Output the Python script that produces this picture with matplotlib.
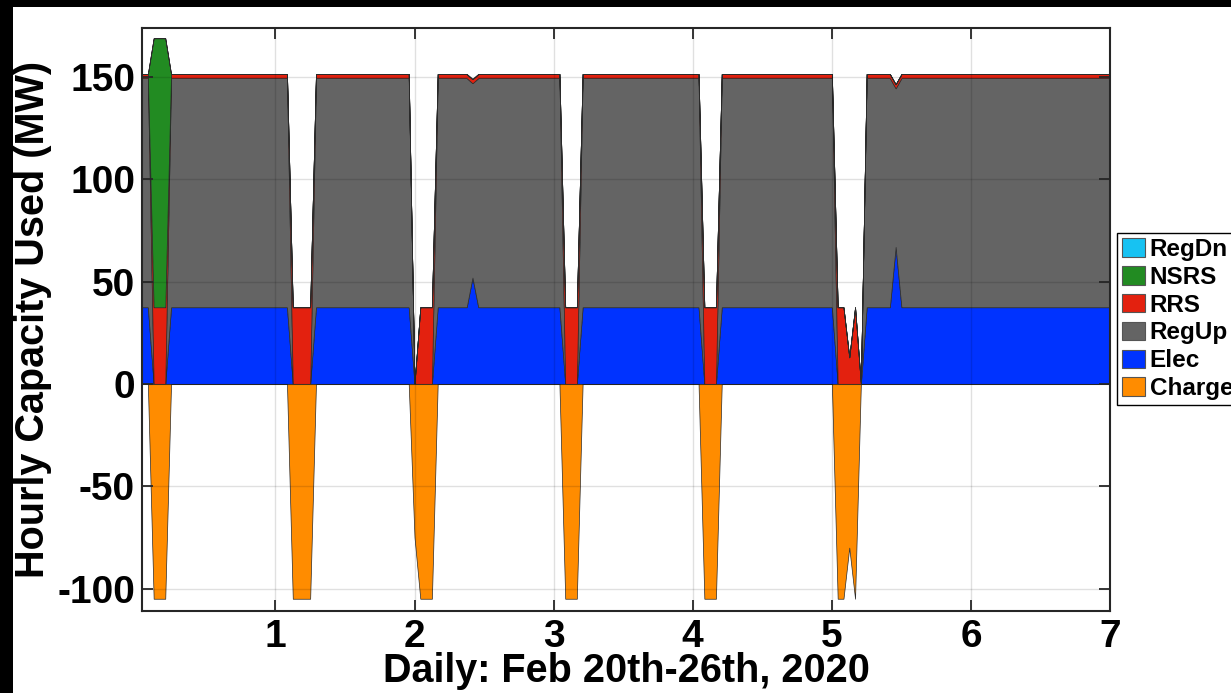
import numpy as np
import matplotlib
matplotlib.use('Agg')
import matplotlib.pyplot as plt
from matplotlib.patches import Patch, Rectangle

plt.rcParams['font.family'] = ['Liberation Sans', 'DejaVu Sans']
plt.rcParams['font.weight'] = 'bold'
plt.rcParams['axes.unicode_minus'] = False

# hourly values, hour 1 .. 168 (12 values per line)
elec = [
    37.5, 37.5, 0, 0, 0, 37.5, 37.5, 37.5, 37.5, 37.5, 37.5, 37.5,
    37.5, 37.5, 37.5, 37.5, 37.5, 37.5, 37.5, 37.5, 37.5, 37.5, 37.5, 37.5,
    37.5, 37.5, 0, 0, 0, 0, 37.5, 37.5, 37.5, 37.5, 37.5, 37.5,
    37.5, 37.5, 37.5, 37.5, 37.5, 37.5, 37.5, 37.5, 37.5, 37.5, 37.5, 0,
    0, 0, 0, 37.5, 37.5, 37.5, 37.5, 37.5, 37.5, 52, 37.5, 37.5,
    37.5, 37.5, 37.5, 37.5, 37.5, 37.5, 37.5, 37.5, 37.5, 37.5, 37.5, 37.5,
    37.5, 0, 0, 0, 37.5, 37.5, 37.5, 37.5, 37.5, 37.5, 37.5, 37.5,
    37.5, 37.5, 37.5, 37.5, 37.5, 37.5, 37.5, 37.5, 37.5, 37.5, 37.5, 37.5,
    37.5, 0, 0, 0, 37.5, 37.5, 37.5, 37.5, 37.5, 37.5, 37.5, 37.5,
    37.5, 37.5, 37.5, 37.5, 37.5, 37.5, 37.5, 37.5, 37.5, 37.5, 37.5, 37.5,
    0, 0, 0, 0, 0, 37.5, 37.5, 37.5, 37.5, 37.5, 67, 37.5,
    37.5, 37.5, 37.5, 37.5, 37.5, 37.5, 37.5, 37.5, 37.5, 37.5, 37.5, 37.5,
    37.5, 37.5, 37.5, 37.5, 37.5, 37.5, 37.5, 37.5, 37.5, 37.5, 37.5, 37.5,
    37.5, 37.5, 37.5, 37.5, 37.5, 37.5, 37.5, 37.5, 37.5, 37.5, 37.5, 37.5,
]
regup = [
    112, 112, 0, 0, 0, 112, 112, 112, 112, 112, 112, 112,
    112, 112, 112, 112, 112, 112, 112, 112, 112, 112, 112, 112,
    112, 112, 0, 0, 0, 0, 112, 112, 112, 112, 112, 112,
    112, 112, 112, 112, 112, 112, 112, 112, 112, 112, 112, 0,
    0, 0, 0, 112, 112, 112, 112, 112, 112, 95, 112, 112,
    112, 112, 112, 112, 112, 112, 112, 112, 112, 112, 112, 112,
    112, 0, 0, 0, 112, 112, 112, 112, 112, 112, 112, 112,
    112, 112, 112, 112, 112, 112, 112, 112, 112, 112, 112, 112,
    112, 0, 0, 0, 112, 112, 112, 112, 112, 112, 112, 112,
    112, 112, 112, 112, 112, 112, 112, 112, 112, 112, 112, 112,
    0, 0, 0, 0, 0, 112, 112, 112, 112, 112, 77.5, 112,
    112, 112, 112, 112, 112, 112, 112, 112, 112, 112, 112, 112,
    112, 112, 112, 112, 112, 112, 112, 112, 112, 112, 112, 112,
    112, 112, 112, 112, 112, 112, 112, 112, 112, 112, 112, 112,
]
rrs = [
    2, 2, 37.5, 37.5, 37.5, 2, 2, 2, 2, 2, 2, 2,
    2, 2, 2, 2, 2, 2, 2, 2, 2, 2, 2, 2,
    2, 2, 37.5, 37.5, 37.5, 37.5, 2, 2, 2, 2, 2, 2,
    2, 2, 2, 2, 2, 2, 2, 2, 2, 2, 2, 0,
    37.5, 37.5, 37.5, 2, 2, 2, 2, 2, 2, 2, 2, 2,
    2, 2, 2, 2, 2, 2, 2, 2, 2, 2, 2, 2,
    2, 37.5, 37.5, 37.5, 2, 2, 2, 2, 2, 2, 2, 2,
    2, 2, 2, 2, 2, 2, 2, 2, 2, 2, 2, 2,
    2, 37.5, 37.5, 37.5, 2, 2, 2, 2, 2, 2, 2, 2,
    2, 2, 2, 2, 2, 2, 2, 2, 2, 2, 2, 2,
    37.5, 37.5, 13, 37.5, 0, 2, 2, 2, 2, 2, 2, 2,
    2, 2, 2, 2, 2, 2, 2, 2, 2, 2, 2, 2,
    2, 2, 2, 2, 2, 2, 2, 2, 2, 2, 2, 2,
    2, 2, 2, 2, 2, 2, 2, 2, 2, 2, 2, 2,
]
nsrs = [
    0, 0, 131.5, 131.5, 131.5, 0, 0, 0, 0, 0, 0, 0,
    0, 0, 0, 0, 0, 0, 0, 0, 0, 0, 0, 0,
    0, 0, 0, 0, 0, 0, 0, 0, 0, 0, 0, 0,
    0, 0, 0, 0, 0, 0, 0, 0, 0, 0, 0, 0,
    0, 0, 0, 0, 0, 0, 0, 0, 0, 0, 0, 0,
    0, 0, 0, 0, 0, 0, 0, 0, 0, 0, 0, 0,
    0, 0, 0, 0, 0, 0, 0, 0, 0, 0, 0, 0,
    0, 0, 0, 0, 0, 0, 0, 0, 0, 0, 0, 0,
    0, 0, 0, 0, 0, 0, 0, 0, 0, 0, 0, 0,
    0, 0, 0, 0, 0, 0, 0, 0, 0, 0, 0, 0,
    0, 0, 0, 0, 0, 0, 0, 0, 0, 0, 0, 0,
    0, 0, 0, 0, 0, 0, 0, 0, 0, 0, 0, 0,
    0, 0, 0, 0, 0, 0, 0, 0, 0, 0, 0, 0,
    0, 0, 0, 0, 0, 0, 0, 0, 0, 0, 0, 0,
]
regdn = [0] * 168
charge = [
    0, 0, -105, -105, -105, 0, 0, 0, 0, 0, 0, 0,
    0, 0, 0, 0, 0, 0, 0, 0, 0, 0, 0, 0,
    0, 0, -105, -105, -105, -105, 0, 0, 0, 0, 0, 0,
    0, 0, 0, 0, 0, 0, 0, 0, 0, 0, 0, -75,
    -105, -105, -105, 0, 0, 0, 0, 0, 0, 0, 0, 0,
    0, 0, 0, 0, 0, 0, 0, 0, 0, 0, 0, 0,
    0, -105, -105, -105, 0, 0, 0, 0, 0, 0, 0, 0,
    0, 0, 0, 0, 0, 0, 0, 0, 0, 0, 0, 0,
    0, -105, -105, -105, 0, 0, 0, 0, 0, 0, 0, 0,
    0, 0, 0, 0, 0, 0, 0, 0, 0, 0, 0, 0,
    -105, -105, -80, -105, 0, 0, 0, 0, 0, 0, 0, 0,
    0, 0, 0, 0, 0, 0, 0, 0, 0, 0, 0, 0,
    0, 0, 0, 0, 0, 0, 0, 0, 0, 0, 0, 0,
    0, 0, 0, 0, 0, 0, 0, 0, 0, 0, 0, 0,
]

labels = ['RegDn', 'NSRS', 'RRS', 'RegUp', 'Elec', 'Charge']
colors = {'RegDn': '#17c2f2', 'NSRS': '#228b22', 'RRS': '#e3210f',
          'RegUp': '#646464', 'Elec': '#0033ff', 'Charge': '#ff8c00'}

hours = np.arange(1, 169)
days = hours / 24.0

fig = plt.figure(figsize=(12.31, 6.93), dpi=100)
fig.patch.set_facecolor('black')
fig.add_artist(Rectangle((13 / 1231, 0), 1, 1 - 7 / 693, transform=fig.transFigure,
                         facecolor='white', edgecolor='none', zorder=-1))

ax = fig.add_axes([0.1154, 0.1183, 0.7864, 0.8413])
edge = '#2a2a2a'
ax.stackplot(days, elec, regup, rrs, nsrs, regdn,
             colors=[colors['Elec'], colors['RegUp'], colors['RRS'],
                     colors['NSRS'], colors['RegDn']],
             edgecolor=edge, linewidth=0.5)
ax.fill_between(days, charge, 0, facecolor=colors['Charge'], edgecolor=edge, linewidth=0.5)

ax.set_xlim(1 / 24, 7)
ax.set_ylim(-111, 174)
ax.set_xticks([1, 2, 3, 4, 5, 6, 7])
ax.set_yticks([-100, -50, 0, 50, 100, 150])
ax.set_axisbelow(False)
ax.grid(True, color='black', alpha=0.12, linewidth=1)
ax.tick_params(direction='in', length=8, width=1.3, top=True, right=True,
               labelsize=28, color='#262626')
ax.tick_params(axis='x', pad=6)
ax.tick_params(axis='y', pad=5)
for sp in ax.spines.values():
    sp.set_linewidth(1.5)
    sp.set_color('#262626')

ax.set_ylabel('Hourly Capacity Used (MW)', fontsize=28.5, fontweight='bold')
ax.yaxis.set_label_coords(-0.093, 0.5)
ax.set_xlabel('Daily: Feb 20th-26th, 2020', fontsize=28.5, fontweight='bold')
ax.xaxis.set_label_coords(0.5, -0.071)
ax.xaxis.label.set_va('top')

handles = [Patch(facecolor=colors[k], edgecolor='#555555', linewidth=0.8) for k in labels]
leg = fig.legend(handles, labels, loc='upper left', bbox_to_anchor=(0.9074, 0.6638),
                 bbox_transform=fig.transFigure, borderaxespad=0, fontsize=17.5,
                 fancybox=False, edgecolor='black', framealpha=1,
                 handlelength=0.95, handleheight=0.8, handletextpad=0.2,
                 labelspacing=0.2, borderpad=0.2)
leg.get_frame().set_linewidth(1)

plt.savefig('out.png', dpi=100, facecolor=fig.get_facecolor())
